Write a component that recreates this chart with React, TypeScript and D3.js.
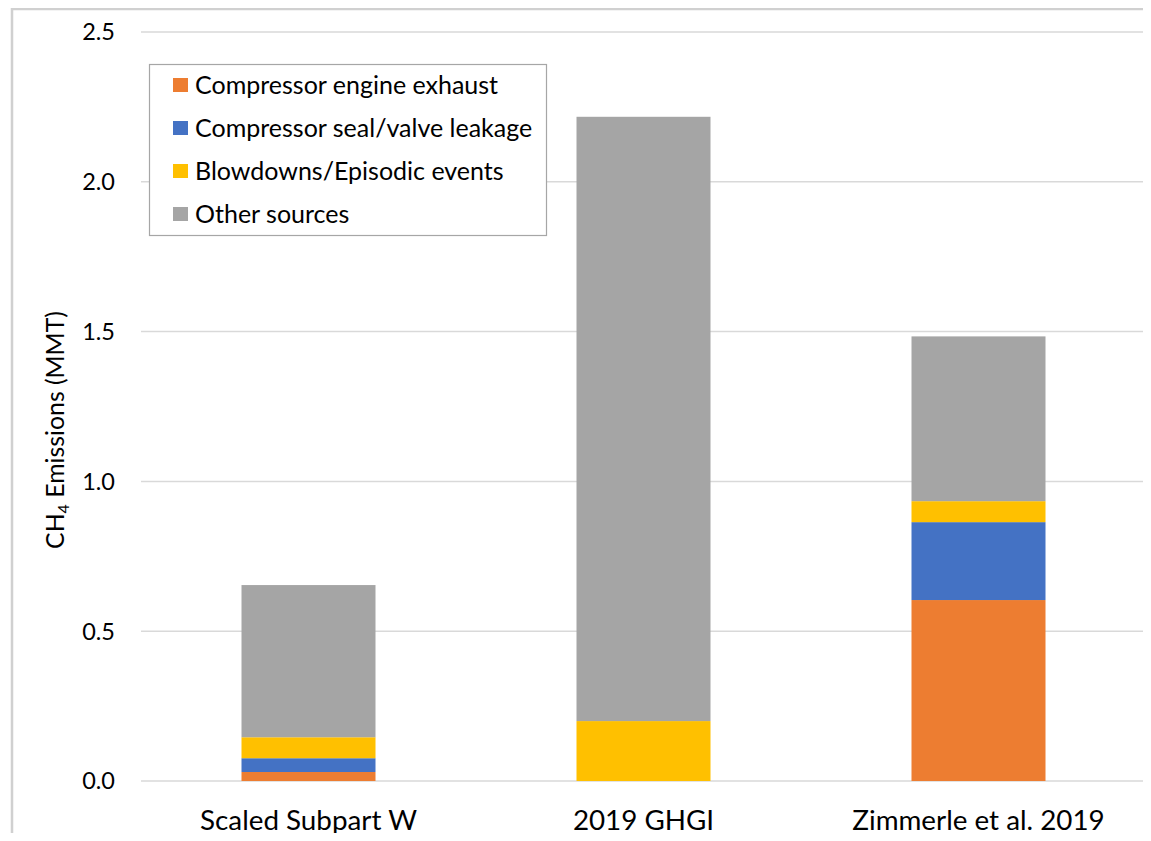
import { useEffect, useRef } from "react";
import * as d3 from "d3";

// categories along the x axis
const categories = ["Scaled Subpart W", "2019 GHGI", "Zimmerle et al. 2019"];

// series names (stack order, bottom to top)
const seriesNames = [
  "Compressor engine exhaust",
  "Compressor seal/valve leakage",
  "Blowdowns/Episodic events",
  "Other sources",
];

// values per series, one per category (MMT CH4)
const engineExhaust = [0.03, 0.0, 0.604];
const sealValveLeakage = [0.046, 0.0, 0.26];
const blowdowns = [0.07, 0.2, 0.07];
const otherSources = [0.508, 2.017, 0.55];

const yTicks = [0, 0.5, 1.0, 1.5, 2.0, 2.5];

const colors = ["#ED7D31", "#4472C4", "#FFC000", "#A5A5A5"];

export default function App() {
  const ref = useRef<SVGSVGElement>(null);

  useEffect(() => {
    const width = 1151;
    const height = 841;
    const svg = d3.select(ref.current);
    svg.selectAll("*").remove();

    const font = "Lato, 'Open Sans', sans-serif";
    const plot = { left: 141, right: 1146, top: 32, bottom: 781 };

    // outer chart frame (cut off at right and bottom)
    svg
      .append("rect")
      .attr("x", 12)
      .attr("y", 9)
      .attr("width", width + 20)
      .attr("height", height + 20)
      .attr("fill", "white")
      .attr("stroke", "#d0d0d0")
      .attr("stroke-width", 2.5);

    const x = d3
      .scaleBand()
      .domain(categories)
      .range([plot.left, plot.right])
      .paddingInner(0.6)
      .paddingOuter(0.3);
    const y = d3.scaleLinear().domain([0, 2.5]).range([plot.bottom, plot.top]);

    // gridlines
    svg
      .append("g")
      .selectAll("line")
      .data(yTicks)
      .join("line")
      .attr("x1", plot.left)
      .attr("x2", plot.right)
      .attr("y1", (d) => y(d))
      .attr("y2", (d) => y(d))
      .attr("stroke", "#d9d9d9")
      .attr("stroke-width", 1.5);

    // y tick labels
    svg
      .append("g")
      .selectAll("text")
      .data(yTicks)
      .join("text")
      .attr("x", 115)
      .attr("y", (d) => y(d))
      .attr("dy", "0.36em")
      .attr("text-anchor", "end")
      .attr("font-family", font)
      .attr("font-size", 23.5)
      .attr("fill", "#000")
      .text((d) => d3.format(".1f")(d));

    // stacked bars
    const table = categories.map((c, i) => ({
      category: c,
      [seriesNames[0]]: engineExhaust[i],
      [seriesNames[1]]: sealValveLeakage[i],
      [seriesNames[2]]: blowdowns[i],
      [seriesNames[3]]: otherSources[i],
    }));
    const stacked = d3.stack<any>().keys(seriesNames)(table);

    svg
      .append("g")
      .selectAll("g")
      .data(stacked)
      .join("g")
      .attr("fill", (_, i) => colors[i])
      .selectAll("rect")
      .data((s) => s)
      .join("rect")
      .attr("x", (d: any) => x(d.data.category)!)
      .attr("y", (d) => y(d[1]))
      .attr("width", x.bandwidth())
      .attr("height", (d) => y(d[0]) - y(d[1]));

    // x labels
    svg
      .append("g")
      .selectAll("text")
      .data(categories)
      .join("text")
      .attr("x", (d) => x(d)! + x.bandwidth() / 2)
      .attr("y", 830)
      .attr("text-anchor", "middle")
      .attr("font-family", font)
      .attr("font-size", 27.8)
      .attr("fill", "#000")
      .text((d) => d);

    // y axis title
    const title = svg
      .append("text")
      .attr("transform", "translate(64,430) rotate(-90)")
      .attr("text-anchor", "middle")
      .attr("font-family", font)
      .attr("font-size", 24.8)
      .attr("fill", "#000");
    title.append("tspan").text("CH");
    title
      .append("tspan")
      .attr("font-size", 16)
      .attr("dy", 5)
      .text("4");
    title.append("tspan").attr("dy", -5).text(" Emissions (MMT)");

    // legend
    const legend = svg.append("g");
    legend
      .append("rect")
      .attr("x", 149.5)
      .attr("y", 64.5)
      .attr("width", 397)
      .attr("height", 171)
      .attr("fill", "white")
      .attr("stroke", "#a6a6a6")
      .attr("stroke-width", 1.2);
    const rows = legend
      .selectAll("g")
      .data(seriesNames)
      .join("g")
      .attr("transform", (_, i) => `translate(0,${85 + i * 43})`);
    rows
      .append("rect")
      .attr("x", 173)
      .attr("y", -7)
      .attr("width", 15)
      .attr("height", 14)
      .attr("fill", (_, i) => colors[i]);
    rows
      .append("text")
      .attr("x", 195)
      .attr("y", 0)
      .attr("dy", "0.36em")
      .attr("font-family", font)
      .attr("font-size", 25)
      .attr("fill", "#000")
      .text((d) => d);
  }, []);

  return (
    <div style={{ margin: -8 }}>
      <svg ref={ref} width={1151} height={841} style={{ display: "block" }} />
    </div>
  );
}
